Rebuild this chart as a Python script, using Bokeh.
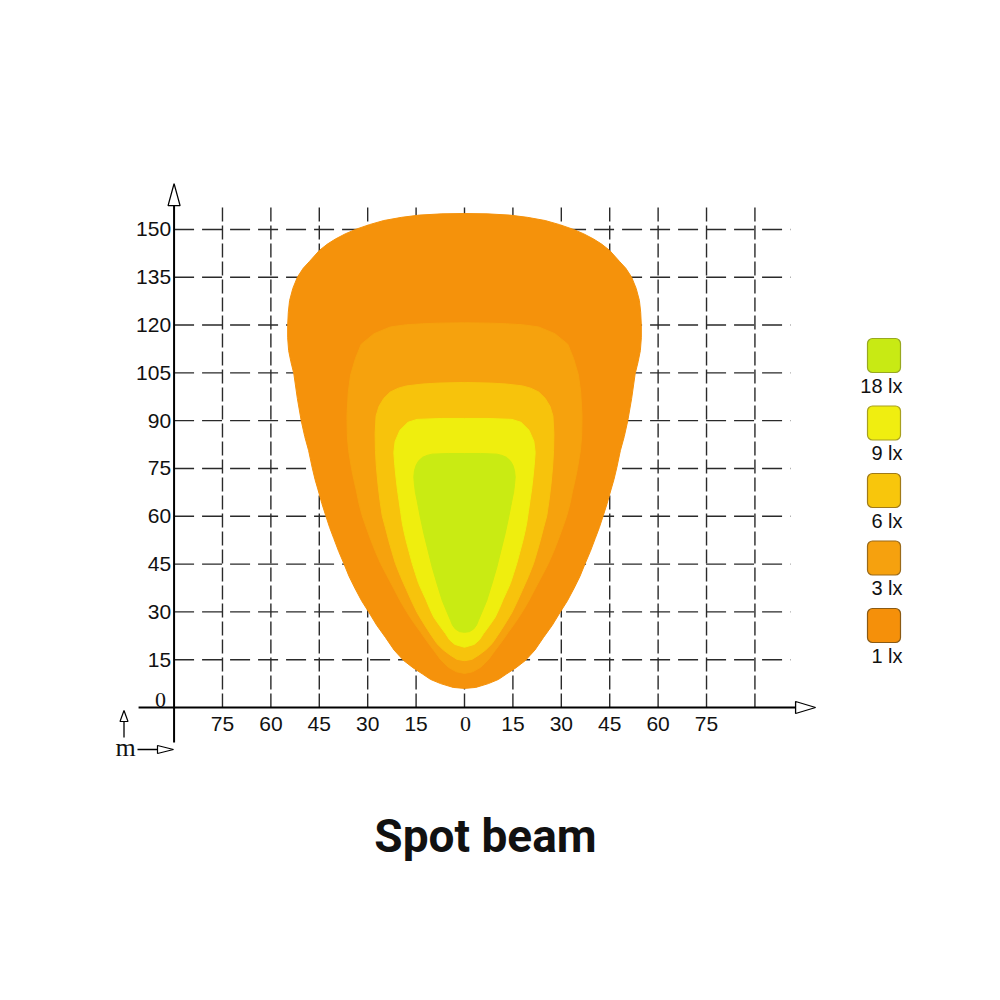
from bokeh.plotting import figure
from bokeh.models import Range1d
from bokeh.embed import file_html
from bokeh.resources import INLINE
from bokeh.core.properties import value

# ---------------- data ----------------
x_tick_values = [-75, -60, -45, -30, -15, 0, 15, 30, 45, 60, 75]
x_tick_labels = ["75", "60", "45", "30", "15", "0", "15", "30", "45", "60", "75"]
y_tick_values = [15, 30, 45, 60, 75, 90, 105, 120, 135, 150]
y_tick_labels = ["15", "30", "45", "60", "75", "90", "105", "120", "135", "150"]
grid_x = [-75, -60, -45, -30, -15, 0, 15, 30, 45, 60, 75, 90]
grid_y = [15, 30, 45, 60, 75, 90, 105, 120, 135, 150]

legend_labels = ["18 lx", "9 lx", "6 lx", "3 lx", "1 lx"]
legend_fill = ["#c8ea14", "#f0ee10", "#f8c60c", "#f6a10e", "#f5900a"]
legend_edge = ["#98a820", "#a8a020", "#a07a18", "#9a6a1a", "#8a5a14"]

# isolux outlines (right half, bottom -> top; mirrored for the left half)
lx1_x = [0, 3.5, 7.4, 10.5, 13, 16, 18.8, 21.8, 24.5, 27.2, 29.6, 31.9, 34, 35.8, 37.4, 39, 40.5,
         41.8, 43, 44.2, 45.3, 46.3, 47.2, 48.3, 49.5, 50.6, 51.8, 52.9, 53.8, 54.5, 54.8, 54.8,
         54.6, 54.2, 53.2, 51.8, 50, 48, 45, 42.5, 40, 37, 33.8, 29.5, 25, 19.5, 14, 7, 0]
lx1_y = [6, 6.3, 7.5, 8.8, 10.5, 12.5, 14.7, 18, 22, 25.8, 29.8, 33.5, 37.5, 41.2, 45.2, 49, 53,
         56.5, 60.2, 64, 68, 71.5, 75.3, 80.6, 85, 90, 97, 104.8, 108.5, 112, 116, 119.9,
         124, 127.7, 131.5, 135, 137.8, 140, 143.4, 145.4, 147, 148.6, 150, 151.5, 152.8, 153.8, 154.5, 154.9, 155]

lx3_x = [0, 2.5, 5, 7.4, 9.5, 11.5, 13.5, 15.7, 17.8, 20, 22, 24, 26, 27.6, 29, 30.4, 31.7, 32.7,
         33.5, 34.3, 35, 35.9, 36.3, 36.4, 36.4, 36, 35.3, 33.8, 32, 28, 23, 18, 13, 8, 0]
lx3_y = [10.7, 11.2, 12.6, 15, 17.9, 20.6, 23.5, 26.6, 29.8, 33.6, 37.5, 41.3, 45.2, 48.9, 52.5, 56.4, 60.2, 64,
         68, 71.5, 75, 80.6, 85, 90, 92, 99, 104.3, 109.5, 114, 117.3, 119.4, 120.1, 120.4, 120.6, 120.7]

lx6_x = [0, 2.3, 4.5, 6.6, 8.5, 10, 11.5, 13.1, 14.7, 16.4, 18, 19.8, 21.4, 22.5, 23.5, 24.5, 25.5,
         26.2, 26.8, 27.3, 27.6, 27.7, 27.4, 26.5, 25, 23, 20.5, 18, 13, 8, 0]
lx6_y = [14.7, 15.1, 16.5, 18.1, 20, 22.2, 24.5, 27.1, 29.8, 33.4, 37, 41.1, 45.2, 48.9, 52.5, 56.4, 60.2,
         65, 70, 75.5, 80.6, 86, 91.5, 94.5, 97, 99, 100.2, 100.9, 101.5, 101.8, 102]

lx9_x = [0, 3, 4.6, 5.9, 7.8, 9.5, 10.8, 12, 13.1, 14.2, 15.2, 16.2, 17.1, 18, 18.7, 19.3, 19.8,
         20.3, 20.8, 21.2, 21.6, 21.9, 21.5, 20, 17.5, 14.7, 7, 0]
lx9_y = [18.9, 19.8, 21.2, 23.2, 25.8, 28.3, 31.1, 34, 36.4, 38.9, 42, 45.2, 48.6, 52, 55, 58, 61.5,
         65, 68.5, 72, 76, 80, 83.5, 87, 89.5, 90.4, 90.7, 90.7]

lx18_x = [0, 1.5, 2.8, 3.7, 4.3, 5.6, 6.9, 8.5, 10, 11.3, 12.6, 13.7, 14.7, 15.2, 15.5, 15.7,
          15.5, 15, 14.2, 13, 11.6, 10, 5, 0]
lx18_y = [23.6, 23.8, 24.6, 25.8, 27.3, 30.4, 33.6, 38.8, 44, 49.3, 54.6, 59.8, 65, 67.5, 70, 72.3,
          74.3, 76, 77.4, 78.5, 79.1, 79.5, 79.7, 79.7]

contours = [
    (lx1_x, lx1_y, "#f5920b"),
    (lx3_x, lx3_y, "#f6a20d"),
    (lx6_x, lx6_y, "#f7c30c"),
    (lx9_x, lx9_y, "#efee0e"),
    (lx18_x, lx18_y, "#c9eb13"),
]

# ---------------- layout ----------------
SX, SY = 3.227, 3.187     # px per unit
W = H = 984
OX, OY = 464, 707         # canvas px of data origin


def dx(px):  # screen px -> data x
    return (px - OX) / SX


def dy(py):
    return (OY - py) / SY


p = figure(width=W, height=H,
           x_range=Range1d(-OX / SX, (W - OX) / SX),
           y_range=Range1d(-(H - OY) / SY, OY / SY),
           output_backend="svg", toolbar_location=None, min_border=0,
           x_axis_location=None, y_axis_location=None)
p.grid.visible = False
p.outline_line_color = None
p.background_fill_color = "white"
p.border_fill_color = "white"

X_AXIS_LEFT, X_AXIS_END = -101, 102.6
Y_AXIS_X = -90
Y_AXIS_BOTTOM, Y_AXIS_END = -11, 157.5
GRID_TOP = 157
GRID_RIGHT = 101

# grid
p.multi_line(xs=[[g, g] for g in grid_x], ys=[[0, GRID_TOP] for _ in grid_x],
             line_color="#2a2a2a", line_width=1.4, line_dash="14 4")
p.multi_line(xs=[[Y_AXIS_X, GRID_RIGHT] for _ in grid_y], ys=[[g, g] for g in grid_y],
             line_color="#2a2a2a", line_width=1.4, line_dash="20 8")

# contours
for cx, cy, col in contours:
    xs = list(cx) + [-v for v in reversed(cx)]
    ys = list(cy) + list(reversed(cy))
    p.patch(xs, ys, fill_color=col, line_color=col, line_width=1)

# axes
p.line([X_AXIS_LEFT, X_AXIS_END], [0, 0], line_color="black", line_width=2)
p.line([Y_AXIS_X, Y_AXIS_X], [Y_AXIS_BOTTOM, Y_AXIS_END], line_color="black", line_width=2)
ahw_x = 6 / SX
ahw_y = 6 / SY
p.patch([Y_AXIS_X - ahw_x, Y_AXIS_X + ahw_x, Y_AXIS_X],
        [Y_AXIS_END, Y_AXIS_END, Y_AXIS_END + 22 / SY],
        fill_color="white", line_color="black", line_width=1.3)
p.patch([X_AXIS_END, X_AXIS_END, X_AXIS_END + 20 / SX],
        [-ahw_y, ahw_y, 0],
        fill_color="white", line_color="black", line_width=1.3)

# tick labels
sans = value("Liberation Sans")
serif = value("Liberation Serif")
xl_vals = [v for v, t in zip(x_tick_values, x_tick_labels) if t != "0"]
xl_txt = [t for t in x_tick_labels if t != "0"]
p.text(x=xl_vals, y=[0] * len(xl_vals), text=xl_txt, text_font=sans, text_font_size="21px",
       text_align="center", text_baseline="middle", y_offset=16, text_color="#111111")
p.text(x=[0], y=[0], text=["0"], text_font=serif, text_font_size="22px",
       text_align="center", text_baseline="middle", y_offset=16, x_offset=1, text_color="#111111")
p.text(x=[Y_AXIS_X] * len(y_tick_values), y=y_tick_values, text=y_tick_labels,
       text_font=sans, text_font_size="21px", text_align="right",
       text_baseline="middle", x_offset=-3, y_offset=0, text_color="#111111")
p.text(x=[Y_AXIS_X], y=[0], text=["0"], text_font=serif, text_font_size="22px",
       text_align="right", text_baseline="middle", x_offset=-8, y_offset=-8, text_color="#111111")

# 'm' unit marker with small arrows
mx = dx(123.5)
p.line([mx, mx], [dy(737), dy(721)], line_color="black", line_width=1.3)
p.patch([mx - 4 / SX, mx + 4 / SX, mx], [dy(721), dy(721), dy(710)],
        fill_color="white", line_color="black", line_width=1.2)
p.text(x=[dx(125)], y=[dy(747)], text=["m"], text_font=serif, text_font_size="26px",
       text_align="center", text_baseline="middle", text_color="#111111")
p.line([dx(137), dx(157)], [dy(749), dy(749)], line_color="black", line_width=1.3)
p.patch([dx(157), dx(157), dx(173)], [dy(745), dy(753), dy(749)],
        fill_color="white", line_color="black", line_width=1.2)

# legend
leg_x = dx(883.5)
leg_y = [dy(355 + 67.5 * i) for i in range(len(legend_labels))]
p.rect(x=[leg_x] * len(leg_y), y=leg_y, width=33, height=34,
       width_units="screen", height_units="screen", border_radius=5,
       fill_color=legend_fill, line_color=legend_edge, line_width=1.2)
p.text(x=[dx(902)] * len(leg_y), y=leg_y, text=legend_labels, text_font=sans,
       text_font_size="20px", text_align="right", text_baseline="middle",
       y_offset=30, text_color="#111111")

# title
p.text(x=[dx(485)], y=[dy(835)], text=["Spot beam"], text_font=value("Roboto"),
       text_font_style="bold", text_font_size="46px", text_align="center",
       text_baseline="middle", text_color="#111111")

open("out.html", "w").write(file_html(p, INLINE))
